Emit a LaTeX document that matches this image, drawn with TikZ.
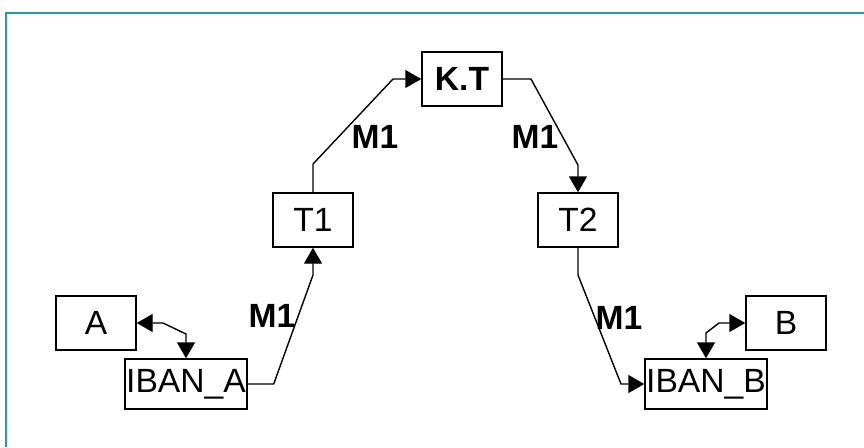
\documentclass[tikz,border=0pt]{standalone}
\usepackage{fontspec}
\setmainfont{Liberation Sans}
\usetikzlibrary{arrows.meta}

\tikzset{
  box/.style={draw, line width=0.7pt, inner sep=0.5pt, minimum width=40pt, minimum height=27pt, font=\fontsize{16.8}{19}\selectfont},
  ibanbox/.style={box, minimum width=61pt, minimum height=25pt},
  arr/.style={line width=0.7pt, -{Triangle[length=8pt,width=9pt]}},
  dblarr/.style={line width=0.7pt, {Triangle[length=8pt,width=9pt]}-{Triangle[length=8pt,width=9pt]}},
  lbl/.style={font=\fontsize{16.8}{19}\selectfont\bfseries}
}

\begin{document}
\begin{tikzpicture}[x=0.5pt,y=-0.5pt]
      \useasboundingbox (0,0) rectangle (864,447);
      \draw[line width=1pt, color={rgb,255:red,26;green,163;blue,154}] (6,447) -- (6,13) -- (864,13);
      % boxes
      \node[box] (kt) at (462,79) {\bfseries K.T};
      \node[box] (t1) at (313,220) {T1};
      \node[box] (t2) at (578,220) {T2};
      \node[box] (a) at (96,323) {A};
      \node[box] (b) at (786,323) {B};
      \node[ibanbox] (ibana) at (186,384) {IBAN\_A};
      \node[ibanbox] (ibanb) at (706,384) {IBAN\_B};
      % connectors
      \draw[arr] (ibana.east) -- ++(26,0) -- (313,275) -- (t1.south);
      \draw[arr] (t1.north) -- (313,164) -- (393,79) -- (kt.west);
      \draw[arr] (kt.east) -- (531,79) -- (578,165) -- (t2.north);
      \draw[arr] (t2.south) -- (578,275) -- (621,384) -- (ibanb.west);
      \draw[dblarr] (a.east) -- (163,323) -- (186,334) -- (ibana.north);
      \draw[dblarr] (ibanb.north) -- (706,333) -- (719,323) -- (b.west);
      % labels
      \node[lbl] (m1a) at (272,316) {M1};
      \node[lbl] (m1b) at (375,137) {M1};
      \node[lbl] (m1c) at (535,137) {M1};
      \node[lbl] (m1d) at (619,318) {M1};
    \end{tikzpicture}
\end{document}
